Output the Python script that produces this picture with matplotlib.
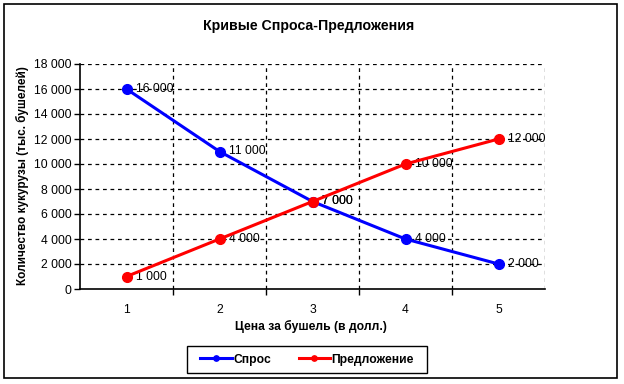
import matplotlib
matplotlib.use("Agg")
import matplotlib.pyplot as plt
from matplotlib.patches import Rectangle
from matplotlib.ticker import FuncFormatter, MultipleLocator

plt.rcParams['font.family'] = ['Liberation Sans', 'DejaVu Sans']

prices = [1, 2, 3, 4, 5]
demand = [16000, 11000, 7000, 4000, 2000]
supply = [1000, 4000, 7000, 10000, 12000]
title = "Кривые Спроса-Предложения"
xlabel = "Цена за бушель (в долл.)"
ylabel = "Количество кукурузы (тыс. бушелей)"
series_names = ["Спрос", "Предложение"]

W, H = 624, 384
fig = plt.figure(figsize=(W / 100, H / 100), dpi=100)

def fx(px):
    return px / W

def fy(py):
    return 1 - py / H

# outer frame
fig.patches.append(Rectangle((fx(4), fy(378)), (617 - 4) / W, (378 - 4) / H,
                             transform=fig.transFigure, fill=False,
                             edgecolor='black', linewidth=1.2))
# legend frame
fig.patches.append(Rectangle((fx(187), fy(373)), (427 - 187) / W, (373 - 346) / H,
                             transform=fig.transFigure, fill=False,
                             edgecolor='black', linewidth=1.0))

ax = fig.add_axes([fx(80), fy(289), (545 - 80) / W, (289 - 64) / H])
ax.set_xlim(0.5, 5.5)
ax.set_ylim(0, 18000)

def fmt(v, pos=None):
    s = f"{int(round(v)):,}".replace(",", " ")
    return s

ax.yaxis.set_major_locator(MultipleLocator(2000))
ax.yaxis.set_major_formatter(FuncFormatter(fmt))
ax.set_xticks(prices)
ax.set_xticklabels([str(p) for p in prices])
ax.set_xticks([1.5, 2.5, 3.5, 4.5], minor=True)

ax.tick_params(axis='x', which='major', length=0, labelsize=8.7, pad=10.5)
ax.tick_params(axis='x', which='minor', length=4, width=1, direction='out')
ax.tick_params(axis='y', which='major', length=4, width=1, direction='out', labelsize=8.7, pad=2)

# grid
for yv in range(2000, 18001, 2000):
    ax.axhline(yv, color='black', linestyle=(0, (3, 3)), linewidth=0.9, zorder=1)
for xv in [1.5, 2.5, 3.5, 4.5, 5.5]:
    ax.axvline(xv, color='black', linestyle=(0, (3, 3)), linewidth=0.9, zorder=1)

for side in ['top', 'right']:
    ax.spines[side].set_visible(False)
ax.spines['left'].set_linewidth(1.2)
ax.spines['bottom'].set_linewidth(1.2)

ax.plot(prices, demand, color='#0000FF', linewidth=2.2, marker='o', markersize=7,
        label=series_names[0], zorder=3)
ax.plot(prices, supply, color='#FF0000', linewidth=2.2, marker='o', markersize=7,
        label=series_names[1], zorder=3)

for x, v in zip(prices, demand):
    ax.annotate(fmt(v), (x, v), xytext=(6.5, 0), textcoords='offset points',
                fontsize=8.7, va='center', ha='left', zorder=0)
for x, v in zip(prices, supply):
    ax.annotate(fmt(v), (x, v), xytext=(6.5, 0), textcoords='offset points',
                fontsize=8.7, va='center', ha='left', zorder=0)

fig.text(fx(308.5), fy(25.7), title, fontsize=10.2, fontweight='bold', ha='center', va='center')
fig.text(fx(311), fy(326), xlabel, fontsize=8.7, fontweight='bold', ha='center', va='center')
fig.text(fx(22), fy(176), ylabel, fontsize=8.5, fontweight='bold', ha='center', va='center',
         rotation=90)

leg = fig.legend(loc='center', bbox_to_anchor=(fx(307), fy(359.5)), ncol=2,
                 frameon=False,
                 prop={'size': 8.7, 'weight': 'bold'}, handlelength=2.6,
                 markerscale=0.55, columnspacing=2.3, handletextpad=0.1,
                 borderpad=0.5)

fig.savefig("out.png", dpi=100)
